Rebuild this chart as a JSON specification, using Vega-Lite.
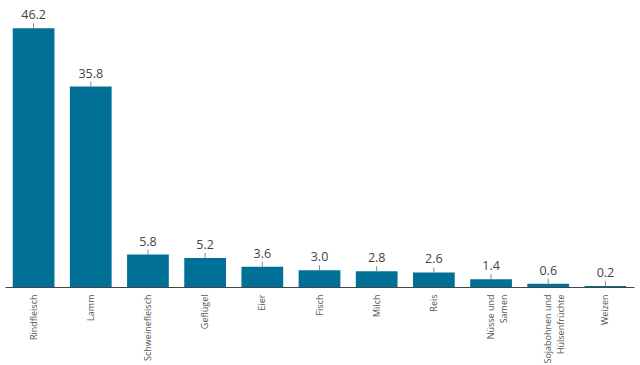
{
  "$schema": "https://vega.github.io/schema/vega-lite/v6.json",
  "width": 629,
  "height": 280,
  "autosize": {"type": "none"},
  "padding": {"left": 5, "top": 7, "right": 6, "bottom": 78},
  "background": "white",
  "config": {"view": {"stroke": null}, "font": "Open Sans"},
  "data": {
    "values": [
      {"food": "Rindfleisch", "value": 46.2},
      {"food": "Lamm", "value": 35.8},
      {"food": "Schweinefleisch", "value": 5.8},
      {"food": "Geflügel", "value": 5.2},
      {"food": "Eier", "value": 3.6},
      {"food": "Fisch", "value": 3.0},
      {"food": "Milch", "value": 2.8},
      {"food": "Reis", "value": 2.6},
      {"food": "Nüsse und|Samen", "value": 1.4},
      {"food": "Sojabohnen und|Hülsenfrüchte", "value": 0.6},
      {"food": "Weizen", "value": 0.2}
    ]
  },
  "encoding": {
    "x": {
      "field": "food",
      "type": "nominal",
      "sort": null,
      "scale": {"paddingInner": 0.27, "paddingOuter": 0.135},
      "axis": {
        "title": null,
        "labelAngle": -90,
        "labelExpr": "split(datum.label, '|')",
        "labelFontSize": 9,
        "labelColor": "#555555",
        "labelPadding": 7,
        "labelLineHeight": 12.5,
        "labelLimit": 300,
        "labelOverlap": false,
        "labelBound": false,
        "ticks": false,
        "domainColor": "#444444",
        "domainWidth": 1
      }
    },
    "y": {
      "field": "value",
      "type": "quantitative",
      "scale": {"domain": [0, 50], "nice": false},
      "axis": null
    }
  },
  "layer": [
    {"mark": {"type": "bar", "color": "#007096"}},
    {"mark": {"type": "rule", "color": "#888888", "strokeWidth": 1, "yOffset": -5}, "encoding": {"y2": {"field": "value"}}},
    {"mark": {"type": "text", "baseline": "alphabetic", "dy": -9, "fontSize": 12.5, "color": "#444444"}, "encoding": {"text": {"field": "value", "format": ".1f"}}}
  ]
}
